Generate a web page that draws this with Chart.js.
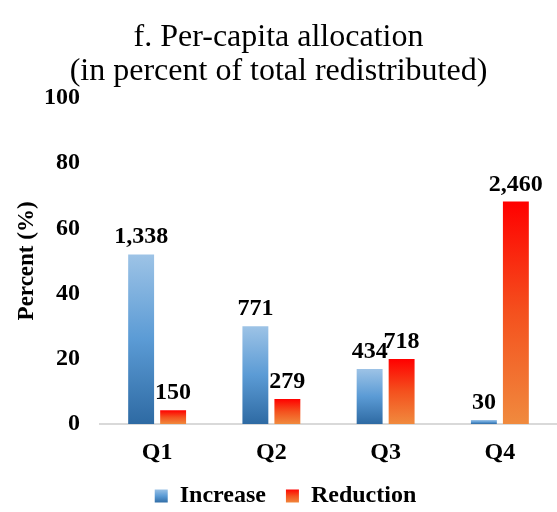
<!DOCTYPE html>
<html><head><meta charset="utf-8">
<script src="https://cdn.jsdelivr.net/npm/chart.js@4/dist/chart.umd.min.js"></script>
<style>html,body{margin:0;padding:0;background:#fff}#wrap{width:557px;height:512px;position:relative}</style>
</head><body><div id="wrap"><canvas id="c"></canvas></div>
<script>
const categories = ["Q1", "Q2", "Q3", "Q4"];
const seriesNames = ["Increase", "Reduction"];
const increaseValues = [52.0, 30.0, 16.9, 1.2];
const reductionValues = [4.2, 7.7, 19.9, 68.2];
const increaseLabels = ["1,338", "771", "434", "30"];
const reductionLabels = ["150", "279", "718", "2,460"];
const yTicks = [0, 20, 40, 60, 80, 100];
const titleLines = ["f. Per-capita allocation", "(in percent of total redistributed)"];
const yAxisTitle = "Percent (%)";

const SERIF = "'Liberation Serif', 'Times New Roman', serif";
const blueStops = ["#9dc3e6", "#5b9bd5", "#2e6aa3"];
const redStops = ["#ff0000", "#f4511e", "#f08a3e"];

function makeGrad(ctx, y0, y1, stops) {
  const g = ctx.createLinearGradient(0, y0, 0, y1);
  g.addColorStop(0, stops[0]);
  g.addColorStop(0.5, stops[1]);
  g.addColorStop(1, stops[2]);
  return g;
}
function barFill(stops) {
  return function (context) {
    const chart = context.chart;
    if (!chart.chartArea) return stops[1];
    if (context.type === 'data') {
      const yScale = chart.scales.y;
      const base = yScale.getPixelForValue(0);
      const top = yScale.getPixelForValue(context.raw);
      if (!isFinite(top) || Math.abs(base - top) < 0.5) return stops[1];
      return makeGrad(chart.ctx, top, base, stops);
    }
    return stops[1];
  };
}

const labelPlugin = {
  id: 'barLabels',
  afterDatasetsDraw(chart) {
    const ctx = chart.ctx;
    const texts = [increaseLabels, reductionLabels];
    ctx.save();
    ctx.font = "bold 24px " + SERIF;
    ctx.fillStyle = "#000";
    ctx.textAlign = "center";
    ctx.textBaseline = "alphabetic";
    chart.data.datasets.forEach((ds, di) => {
      const meta = chart.getDatasetMeta(di);
      meta.data.forEach((el, i) => {
        ctx.fillText(texts[di][i], el.x, el.y - 11);
      });
    });
    ctx.restore();
  }
};

const legendPlugin = {
  id: 'legendTweak',
  beforeLayout(chart) {
    const lg = chart.legend;
    if (lg && !lg._fitPatched) {
      const orig = lg.fit;
      lg.fit = function () { orig.call(this); this.height = 39; };
      lg._fitPatched = true;
    }
  },
  afterLayout(chart) {
    const lg = chart.legend;
    if (!lg) return;
    lg.top -= 9; lg.bottom -= 9;
    lg.left += 7; lg.right += 7;
  },
  beforeDraw(chart) {
    const lg = chart.legend;
    if (!lg || !lg.legendItems) return;
    const mid = lg.top + 20 + 12;
    const stopsArr = [blueStops, redStops];
    lg.legendItems.forEach((it, i) => {
      it.fillStyle = makeGrad(chart.ctx, mid - 7, mid + 7, stopsArr[i]);
    });
  }
};

new Chart(document.getElementById('c'), {
  type: 'bar',
  data: {
    labels: categories,
    datasets: [
      { label: seriesNames[0], data: increaseValues, backgroundColor: barFill(blueStops), borderWidth: 0 },
      { label: seriesNames[1], data: reductionValues, backgroundColor: barFill(redStops), borderWidth: 0 }
    ]
  },
  options: {
    responsive: true,
    maintainAspectRatio: false,
    animation: false,
    layout: { padding: { left: 0, right: 0, top: 0, bottom: 0 } },
    datasets: { bar: { categoryPercentage: 0.56, barPercentage: 0.81 } },
    plugins: {
      title: {
        display: true,
        text: titleLines,
        color: "#000",
        font: { family: SERIF, size: 32, weight: 'normal', lineHeight: 1.06 },
        padding: { top: 21, bottom: 9 }
      },
      legend: {
        position: 'bottom',
        labels: {
          color: "#000",
          boxWidth: 13,
          boxHeight: 13,
          padding: 20,
          font: { family: SERIF, size: 24, weight: 'bold' }
        }
      },
      tooltip: { enabled: false }
    },
    scales: {
      x: {
        afterFit(scale) { scale.height = 49; },
        grid: { display: false, drawTicks: false },
        border: { display: true, color: "#d9d9d9", width: 2 },
        ticks: { color: "#000", padding: 14, font: { family: SERIF, size: 24, weight: 'bold' } }
      },
      y: {
        min: 0,
        max: 100,
        afterBuildTicks(scale) { scale.ticks = yTicks.map(v => ({ value: v })); },
        afterFit(scale) { scale.width = 100; },
        grid: { display: false, drawTicks: false },
        border: { display: false },
        ticks: { color: "#000", padding: 20, font: { family: SERIF, size: 24, weight: 'bold' } },
        title: {
          display: true,
          text: yAxisTitle,
          color: "#000",
          padding: { top: 13, bottom: 0 },
          font: { family: SERIF, size: 23, weight: 'bold' }
        }
      }
    }
  },
  plugins: [labelPlugin, legendPlugin]
});
</script>
</body></html>
